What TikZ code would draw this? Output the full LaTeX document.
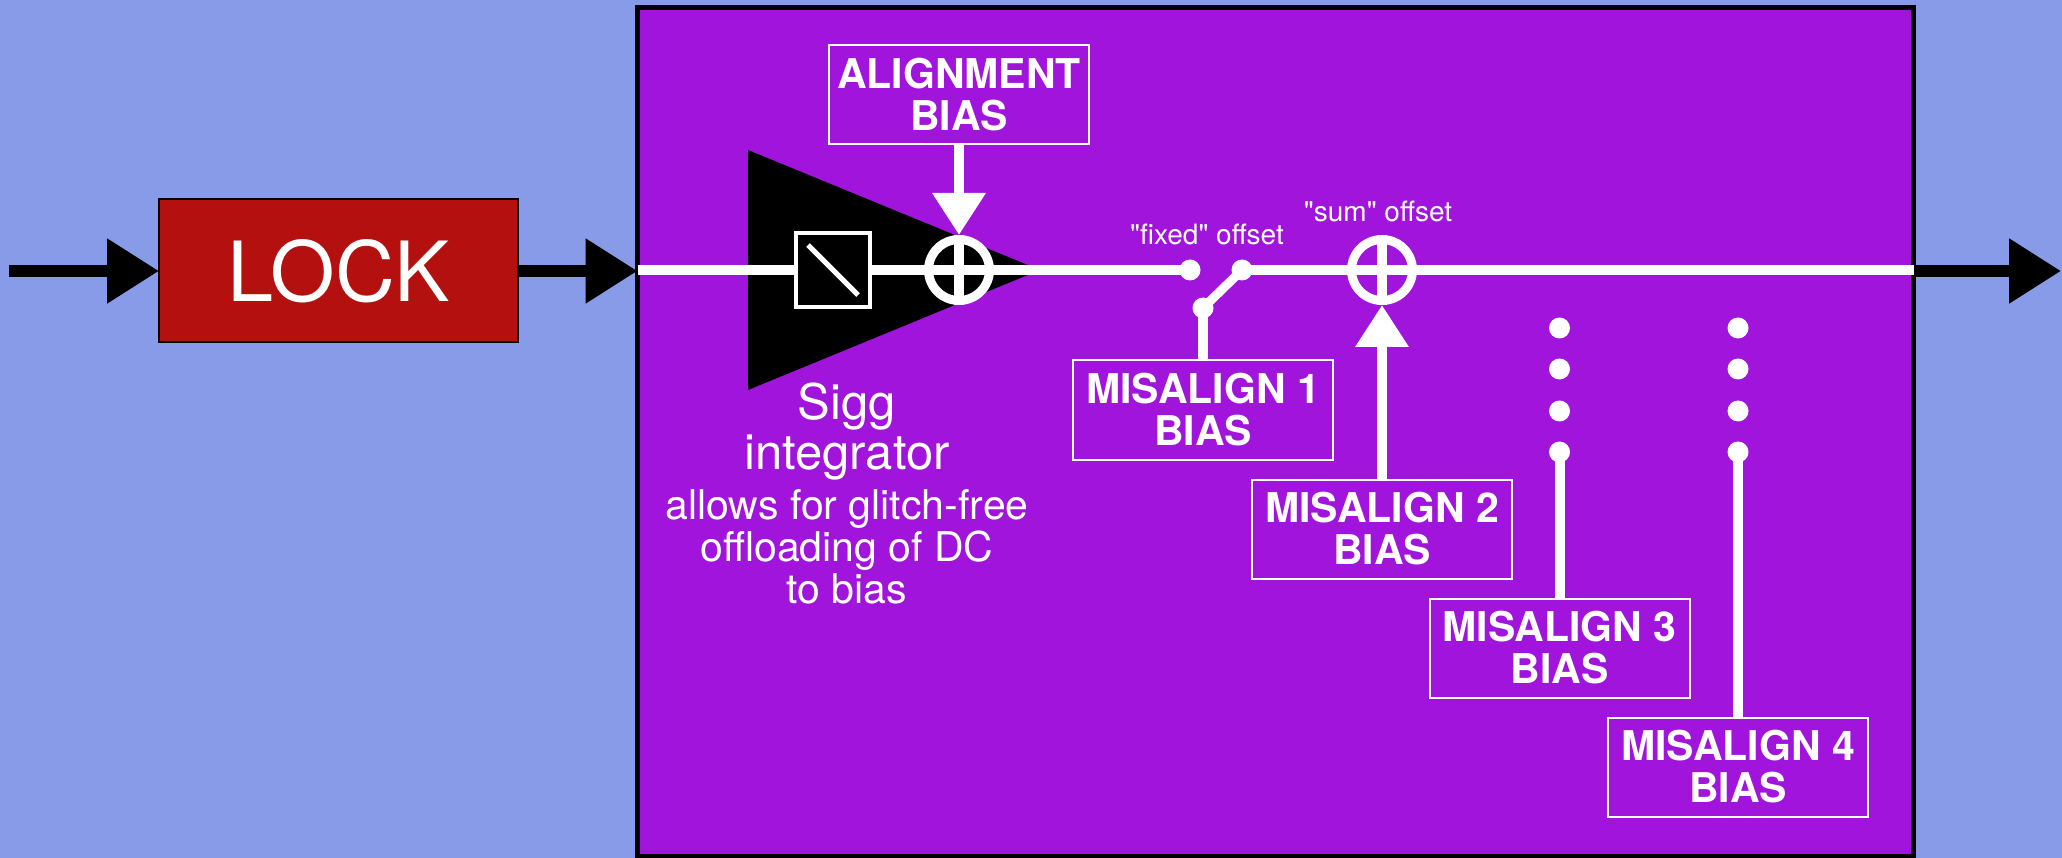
\documentclass[tikz,border=0pt]{standalone}
\usepackage{fontspec}
\setmainfont{TeX Gyre Heros}
\usetikzlibrary{arrows.meta,calc}
\definecolor{bgblue}{HTML}{889BE8}
\definecolor{sysviolet}{HTML}{A014DC}
\definecolor{lockred}{HTML}{B4100F}
\begin{document}
\begin{tikzpicture}[x=1pt,y=-1pt,
  biasbox/.style={draw=white, line width=2pt, text=white,
    font=\fontsize{41}{42}\selectfont\bfseries, align=center,
    minimum width=260pt, minimum height=99pt, inner sep=0pt},
  whiteline/.style={white, line width=10pt},
  whitearrow/.style={white, line width=10pt, -{Triangle[length=42pt,width=51pt]}},
  blackarrow/.style={black, line width=12pt, -{Triangle[length=52pt,width=62pt]}},
  dotnode/.style={circle, fill=white, draw=none, minimum size=21pt, inner sep=0pt},
  sumnode/.style={circle, draw=white, line width=9pt, minimum size=61pt, inner sep=0pt},
  wtext/.style={text=white, inner sep=0pt}]
\fill[bgblue] (0,0) rectangle (2062,858);
\useasboundingbox (0,0) rectangle (2062,858);
% system box
\node[draw=black, line width=5pt, fill=sysviolet, minimum width=1276pt,
  minimum height=848.5pt, inner sep=0pt, outer sep=0pt] (sys) at (1275.5,431.75) {};
% lock
\node[draw=black, line width=2pt, fill=lockred, text=white,
  font=\fontsize{83}{90}\selectfont, minimum width=359pt, minimum height=143pt,
  inner sep=0pt, outer sep=0pt] (lock) at (338.5,271) {LOCK};
\coordinate (in) at (9,271);
\coordinate (out) at (2061,271);
\draw[blackarrow] (in) -- (lock.west);
\draw[blackarrow] (lock.east) -- (lock.east -| sys.west);
\draw[blackarrow] (sys.east |- out) -- (out);
% integrator triangle
\fill[black] (748,150) -- (1040,270) -- (748,390) -- cycle;
\node[draw=white, line width=4pt, fill=black, minimum size=74pt, inner sep=0pt] (integ) at (833,270) {};
\draw[white, line width=5pt] ($(integ.center)+(-25,-25)$) -- ($(integ.center)+(25,25)$);
% summers and switch dots
\node[sumnode] (sum1) at (959,270) {};
\node[sumnode] (sum2) at (1382,270) {};
\node[dotnode] (d1) at (1190,270) {};
\node[dotnode] (d2) at (1242,270) {};
\node[dotnode] (d3) at (1203,308) {};
% main signal line
\draw[whiteline] (integ.west -| sys.west) -- (integ.west);
\draw[whiteline] (integ.east) -- (sum1.west);
\draw[whiteline] (sum1.east) -- (d1.center);
\draw[whiteline] (d2.center) -- (sum2.west);
\draw[whiteline] (sum2.east) -- (sum2.east -| sys.east);
\draw[whiteline] (sum1.west) -- (sum1.east) (sum1.north) -- (sum1.south);
\draw[whiteline] (sum2.west) -- (sum2.east) (sum2.north) -- (sum2.south);
% bias boxes
\node[biasbox] (align) at (959,95) {ALIGNMENT\\BIAS};
\node[biasbox] (mis1) at (1203,410) {MISALIGN 1\\BIAS};
\node[biasbox] (mis2) at (1382,529) {MISALIGN 2\\BIAS};
\node[biasbox] (mis3) at (1559.5,648) {MISALIGN 3\\BIAS};
\node[biasbox] (mis4) at (1738,767) {MISALIGN 4\\BIAS};
\draw[whitearrow] (align.south) -- (sum1.north);
\draw[whitearrow] (mis2.north) -- (sum2.south);
\draw[whiteline] (d3.center) -- (mis1.north);
\draw[white, line width=9pt] (d3.center) -- (d2.center);
% dotted columns
\foreach \i/\yy in {a/328,b/369,c/411,d/452} {
  \node[dotnode] (c1\i) at (1559.5,\yy) {};
  \node[dotnode] (c2\i) at (1738,\yy) {};
}
\draw[whiteline] (c1d.center) -- (mis3.north);
\draw[whiteline] (c2d.center) -- (mis4.north);
% texts
\node[wtext, font=\fontsize{49}{50}\selectfont, align=center] (sigg) at (847,432) {Sigg\\integrator};
\node[wtext, font=\fontsize{41}{42}\selectfont, align=center] (note) at (847,547) {allows for glitch-free\\offloading of DC\\to bias};
\node[wtext, font=\fontsize{28}{30}\selectfont, anchor=base] (fixedlbl) at (1207,245) {\textquotedbl fixed\textquotedbl{} offset};
\node[wtext, font=\fontsize{28}{30}\selectfont, anchor=base] (sumlbl) at (1378,222) {\textquotedbl sum\textquotedbl{} offset};
\end{tikzpicture}
\end{document}
